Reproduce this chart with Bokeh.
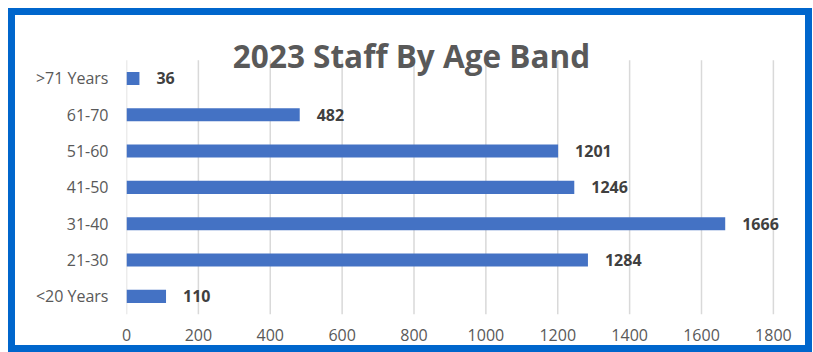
from bokeh.plotting import figure
from bokeh.models import ColumnDataSource, Range1d, FixedTicker, Label, LabelSet
from bokeh.core.properties import value
from bokeh.embed import file_html
from bokeh.resources import INLINE

categories = ["<20 Years", "21-30", "31-40", "41-50", "51-60", "61-70", ">71 Years"]
staff = [110, 1284, 1666, 1246, 1201, 482, 36]
x_ticks = [0, 200, 400, 600, 800, 1000, 1200, 1400, 1600, 1800]
title_text = "2023 Staff By Age Band"

FONT = "Open Sans"
X_HEADROOM = 56      # room right of the last gridline for the value labels
Y_HEADROOM = 0.6     # room above the top band for the title

pos = [i + 0.5 for i in range(len(categories))]
src = ColumnDataSource(dict(pos=pos, n=staff, lbl=[str(v) for v in staff]))
grid_src = ColumnDataSource(dict(x=x_ticks, y0=[0] * len(x_ticks), y1=[len(categories)] * len(x_ticks)))

p = figure(width=804, height=344, output_backend="svg", toolbar_location=None,
           y_range=Range1d(0, len(categories) + Y_HEADROOM),
           x_range=Range1d(0, x_ticks[-1] + X_HEADROOM),
           min_border_left=111, min_border_right=26, min_border_top=23, min_border_bottom=45)
p.styles = {"margin": "8px 0px 0px 8px", "border": "7px solid #0066CC"}

p.segment(x0="x", x1="x", y0="y0", y1="y1", line_color="#D9D9D9", line_width=1.5, source=grid_src)
p.hbar(y="pos", left=0, right="n", height=0.36, fill_color="#4472C4", line_color=None, source=src)
p.add_layout(LabelSet(x="n", y="pos", text="lbl", x_offset=17, text_baseline="middle", text_align="left",
                      text_font=value(FONT), text_font_style="bold", text_font_size="16px",
                      text_color="#404040", source=src))

p.xaxis.ticker = FixedTicker(ticks=x_ticks)
p.yaxis.ticker = FixedTicker(ticks=pos)
p.yaxis.major_label_overrides = {v: c for v, c in zip(pos, categories)}
for ax in (p.xaxis, p.yaxis):
    ax.axis_line_color = None
    ax.major_tick_line_color = None
    ax.minor_tick_line_color = None
    ax.major_label_text_font = FONT
    ax.major_label_text_font_size = "16px"
    ax.major_label_text_color = "#595959"
p.xaxis.major_label_standoff = 8
p.yaxis.major_label_standoff = 12

p.xgrid.grid_line_color = None
p.ygrid.grid_line_color = None
p.outline_line_color = None

p.add_layout(Label(x=793, y=len(categories), y_offset=5, text=title_text,
                   text_align="center", text_baseline="middle",
                   text_font=FONT, text_font_style="bold", text_font_size="31.5px",
                   text_color="#595959"))

open("out.html", "w").write(file_html(p, INLINE))
